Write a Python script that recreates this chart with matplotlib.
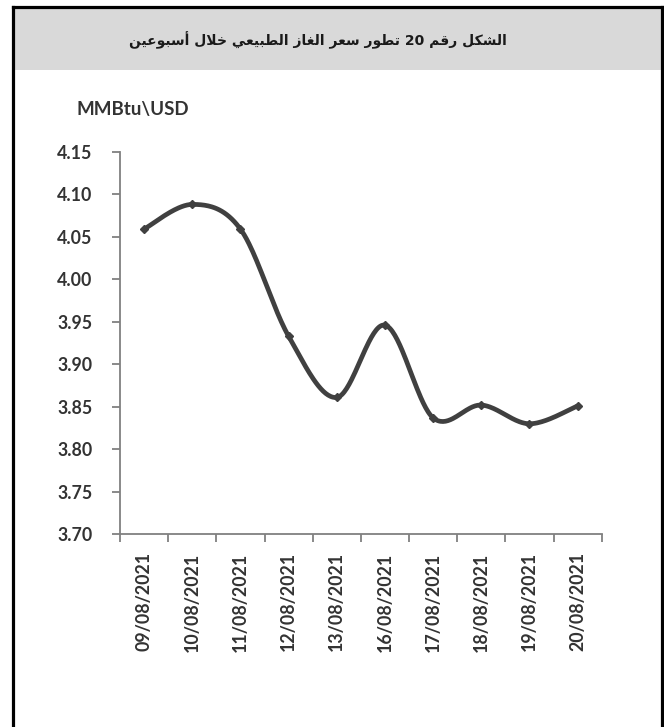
import matplotlib
matplotlib.use("Agg")
import matplotlib.pyplot as plt
import numpy as np
from matplotlib.patches import Rectangle
from matplotlib.lines import Line2D

# ---------------- data ----------------
dates = ["09/08/2021", "10/08/2021", "11/08/2021", "12/08/2021", "13/08/2021",
         "16/08/2021", "17/08/2021", "18/08/2021", "19/08/2021", "20/08/2021"]
prices = [4.059, 4.088, 4.059, 3.933, 3.861, 3.946, 3.837, 3.852, 3.830, 3.851]
yticks = [3.70, 3.75, 3.80, 3.85, 3.90, 3.95, 4.00, 4.05, 4.10, 4.15]
title_text = "الشكل رقم 20 تطور سعر الغاز الطبيعي خلال أسبوعين"
unit_text = "MMBtu\\USD"

# ---------------- simple Arabic shaping ----------------
FORMS = {
    'ا': (0xFE8D, 0xFE8E, None, None),
    'أ': (0xFE83, 0xFE84, None, None),
    'ب': (0xFE8F, 0xFE90, 0xFE91, 0xFE92),
    'ت': (0xFE95, 0xFE96, 0xFE97, 0xFE98),
    'خ': (0xFEA5, 0xFEA6, 0xFEA7, 0xFEA8),
    'ر': (0xFEAD, 0xFEAE, None, None),
    'ز': (0xFEAF, 0xFEB0, None, None),
    'س': (0xFEB1, 0xFEB2, 0xFEB3, 0xFEB4),
    'ش': (0xFEB5, 0xFEB6, 0xFEB7, 0xFEB8),
    'ط': (0xFEC1, 0xFEC2, 0xFEC3, 0xFEC4),
    'ع': (0xFEC9, 0xFECA, 0xFECB, 0xFECC),
    'غ': (0xFECD, 0xFECE, 0xFECF, 0xFED0),
    'ق': (0xFED5, 0xFED6, 0xFED7, 0xFED8),
    'ك': (0xFED9, 0xFEDA, 0xFEDB, 0xFEDC),
    'ل': (0xFEDD, 0xFEDE, 0xFEDF, 0xFEE0),
    'م': (0xFEE1, 0xFEE2, 0xFEE3, 0xFEE4),
    'ن': (0xFEE5, 0xFEE6, 0xFEE7, 0xFEE8),
    'و': (0xFEED, 0xFEEE, None, None),
    'ي': (0xFEF1, 0xFEF2, 0xFEF3, 0xFEF4),
}
LAM_ALEF = {'ا': (0xFEFB, 0xFEFC), 'أ': (0xFEF7, 0xFEF8)}


def dual(c):
    return c in FORMS and FORMS[c][2] is not None


def shape_word(w):
    chars = []
    i = 0
    while i < len(w):
        if w[i] == 'ل' and i + 1 < len(w) and w[i + 1] in LAM_ALEF:
            chars.append(('LA', w[i + 1]))
            i += 2
        else:
            chars.append(('C', w[i]))
            i += 1
    out = []
    for k, (kind, c) in enumerate(chars):
        prev = chars[k - 1] if k > 0 else None
        nxt = chars[k + 1] if k + 1 < len(chars) else None
        join_prev = prev is not None and prev[0] == 'C' and dual(prev[1])
        if kind == 'LA':
            iso, fin = LAM_ALEF[c]
            out.append(chr(fin if join_prev else iso))
            continue
        if c not in FORMS:
            out.append(c)
            continue
        join_next = dual(c) and nxt is not None and (nxt[0] == 'LA' or nxt[1] in FORMS)
        iso, fin, ini, med = FORMS[c]
        if join_prev and join_next:
            code = med
        elif join_prev:
            code = fin
        elif join_next:
            code = ini
        else:
            code = iso
        out.append(chr(code))
    return ''.join(out)


def visual(text):
    tokens = text.split(' ')
    vis = []
    for t in reversed(tokens):
        if any(ch in FORMS for ch in t):
            vis.append(shape_word(t)[::-1])
        else:
            vis.append(t)
    return ' '.join(vis)


# ---------------- figure ----------------
W, H = 664, 727
fig = plt.figure(figsize=(W / 100, H / 100), dpi=100)
fig.patch.set_facecolor('white')

fig.patches.append(Rectangle((13 / W, 1 - 70 / H), (662 - 13) / W, (70 - 7) / H,
                             transform=fig.transFigure, facecolor='#d9d9d9',
                             edgecolor='none', zorder=0))
frame_kw = dict(color='black', linewidth=2.3, transform=fig.transFigure, zorder=5)
fig.lines.append(Line2D([13 / W, 13 / W], [1 - 7 / H, -0.05], **frame_kw))
fig.lines.append(Line2D([662 / W, 662 / W], [1 - 7 / H, -0.05], **frame_kw))
fig.lines.append(Line2D([13 / W, 662 / W], [1 - 7 / H, 1 - 7 / H], **frame_kw))

fig.text(318 / W, 1 - 40 / H, visual(title_text), ha='center', va='center',
         fontsize=10, fontweight='bold', family=['DejaVu Sans'], color='#1a1a1a')

ax = fig.add_axes([120 / W, 1 - 534.3 / H, (601.7 - 120) / W, (534.3 - 151.7) / H])
x = np.arange(len(prices))
y = np.array(prices)

# Excel-style smoothed line (Catmull-Rom Bezier through points)
P = np.column_stack([x, y]).astype(float)
Pe = np.vstack([P[0], P, P[-1]])
curve = []
t = np.linspace(0, 1, 40)
for i in range(len(P) - 1):
    p0, p1, p2, p3 = Pe[i], Pe[i + 1], Pe[i + 2], Pe[i + 3]
    c1 = p1 + (p2 - p0) / 6.0
    c2 = p2 - (p3 - p1) / 6.0
    seg = ((1 - t) ** 3)[:, None] * p1 + (3 * (1 - t) ** 2 * t)[:, None] * c1 \
        + (3 * (1 - t) * t ** 2)[:, None] * c2 + (t ** 3)[:, None] * p2
    curve.append(seg if i == 0 else seg[1:])
curve = np.vstack(curve)
ax.plot(curve[:, 0], curve[:, 1], color='#404040', linewidth=3.4,
        solid_capstyle='butt', zorder=3)
ax.plot(x, y, linestyle='none', marker='D', markersize=4.5, color='#404040', zorder=4)

ax.set_xlim(-0.5, len(prices) - 0.5)
ax.set_ylim(3.70, 4.15)
ax.set_yticks(yticks)
ax.set_yticklabels([f"{v:.2f}" for v in yticks])
ax.set_xticks(np.arange(-0.5, len(prices), 1.0))
ax.set_xticklabels([])
ax.set_xticks(x, minor=True)
ax.set_xticklabels(dates, minor=True, rotation=90)

for s in ['top', 'right']:
    ax.spines[s].set_visible(False)
for s in ['left', 'bottom']:
    ax.spines[s].set_color('#808080')
    ax.spines[s].set_linewidth(1.3)

ax.tick_params(axis='y', direction='out', length=6, width=1.3, color='#808080',
               pad=14, labelsize=12.8, labelcolor='#333333')
ax.tick_params(axis='x', which='major', direction='out', length=6, width=1.3,
               color='#808080')
ax.tick_params(axis='x', which='minor', length=0, pad=13, labelsize=12.8,
               labelcolor='#333333')
for lab in ax.get_yticklabels() + ax.get_xticklabels(minor=True):
    lab.set_fontfamily('Lato')
    lab.set_fontweight('bold')

fig.text(77 / W, 1 - 110 / H, unit_text, ha='left', va='center', fontsize=13.5,
         fontweight='bold', family='Lato', color='#333333')

fig.savefig('out.png', dpi=100, facecolor='white')
